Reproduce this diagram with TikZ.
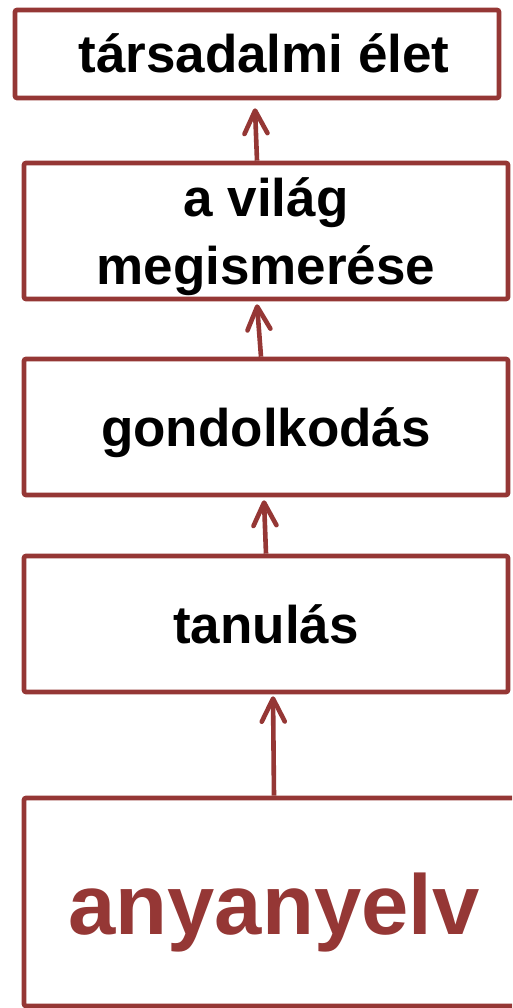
\documentclass[tikz,border=0pt]{standalone}
\usepackage{fontspec}
\setmainfont{Liberation Sans}
\usetikzlibrary{arrows.meta}
\definecolor{boxred}{RGB}{149,55,53}
\begin{document}
\begin{tikzpicture}[x=1pt,y=1pt,
  box/.style={draw=boxred, line width=4.6pt, rounded corners=2pt, fill=white, inner sep=0pt,
    font=\bfseries\fontsize{53}{68}\selectfont, minimum width=484pt},
  up/.style={draw=boxred, line width=4.6pt, -{Straight Barb[length=23pt,width=23pt,round]}}]
\clip (0,0) rectangle (512,1008);
\fill[white] (0,0) rectangle (512,1008);
\node[box, minimum height=88pt, text height=37pt, text depth=0pt] (b1) at (257,954) {\hspace*{14pt}társadalmi élet};
\node[box, minimum height=136pt, text height=108pt, text depth=0pt] (b2) at (266,777) {\begin{tabular}[b]{@{}c@{}}a világ\\megismerése\end{tabular}};
\node[box, minimum height=136pt, text height=40pt, text depth=0pt] (b3) at (266,581) {gondolkodás};
\node[box, minimum height=136pt, text height=40pt, text depth=0pt] (b4) at (266,384) {tanulás};
\node[box, minimum width=500pt, minimum height=208pt, text height=66pt, text depth=0pt, text=boxred,
  font=\bfseries\fontsize{85}{100}\selectfont] (b5) at (274,106) {anyanyelv};
\draw[up] ([xshift=-9pt]b2.north) -- ([xshift=-2pt,yshift=-8pt]b1.south);
\draw[up] ([xshift=-5pt]b3.north) -- ([xshift=-9pt,yshift=-3pt]b2.south);
\draw[up] (b4.north) -- ([xshift=-2pt,yshift=-3pt]b3.south);
\draw[up] (b5.north) -- ([xshift=7pt,yshift=-2pt]b4.south);
\end{tikzpicture}
\end{document}
